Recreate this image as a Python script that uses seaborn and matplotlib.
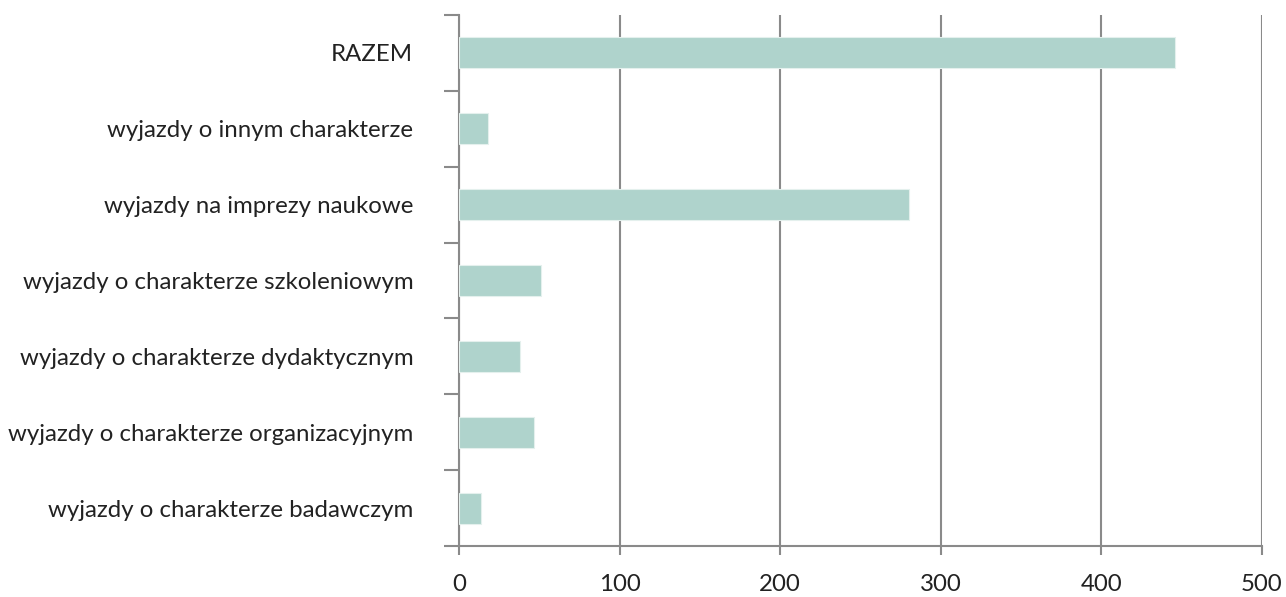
import matplotlib.pyplot as plt
import numpy as np
import pandas as pd
import seaborn as sns

CATEGORIES = [
    "RAZEM",
    "wyjazdy o innym charakterze",
    "wyjazdy na imprezy naukowe",
    "wyjazdy o charakterze szkoleniowym",
    "wyjazdy o charakterze dydaktycznym",
    "wyjazdy o charakterze organizacyjnym",
    "wyjazdy o charakterze badawczym",
]
VALUES = [446, 18, 280, 51, 38, 47, 14]
X_TICKS = [0, 100, 200, 300, 400, 500]

BAR_COLOR = "#afd3cc"
LINE_COLOR = "#8a8a8a"

df = pd.DataFrame({"kategoria": CATEGORIES, "liczba": VALUES})

sns.set_style("white")
plt.rcParams["font.family"] = ["Lato", "DejaVu Sans"]

fig = plt.figure(figsize=(12.86, 5.97), dpi=100)
ax = fig.add_axes([459 / 1286, 1 - 546 / 597, (1262 - 459) / 1286, (546 - 15) / 597])

sns.barplot(data=df, x="liczba", y="kategoria", order=CATEGORIES,
            color=BAR_COLOR, saturation=1, width=0.41,
            edgecolor="#e4f0ed", linewidth=0.8, ax=ax, zorder=3)

ax.set_xlim(0, 500)
ax.set_ylim(len(CATEGORIES) - 0.5, -0.5)
ax.set_xticks(X_TICKS)
ax.set_xticklabels([str(t) for t in X_TICKS], fontsize=17.3, color="#222222")
ax.tick_params(axis="x", bottom=True, length=6.5, width=1.5, color=LINE_COLOR,
               pad=14, direction="out")

# category labels without ticks, boundary ticks as minor ticks
ax.tick_params(axis="y", which="major", left=True, length=0, pad=33,
               labelsize=17.3, labelcolor="#222222")
ax.set_yticks(np.arange(len(CATEGORIES) + 1) - 0.5, minor=True)
ax.tick_params(axis="y", which="minor", left=True, length=10.5, width=1.5,
               color=LINE_COLOR, direction="out")

ax.grid(axis="x", color=LINE_COLOR, linewidth=1.5, zorder=0)
ax.grid(axis="y", visible=False)
ax.set_axisbelow(True)

for side in ["top", "right"]:
    ax.spines[side].set_visible(False)
for side in ["left", "bottom"]:
    ax.spines[side].set_color(LINE_COLOR)
    ax.spines[side].set_linewidth(1.5)

ax.set_xlabel("")
ax.set_ylabel("")

fig.savefig("out.png", dpi=100)
